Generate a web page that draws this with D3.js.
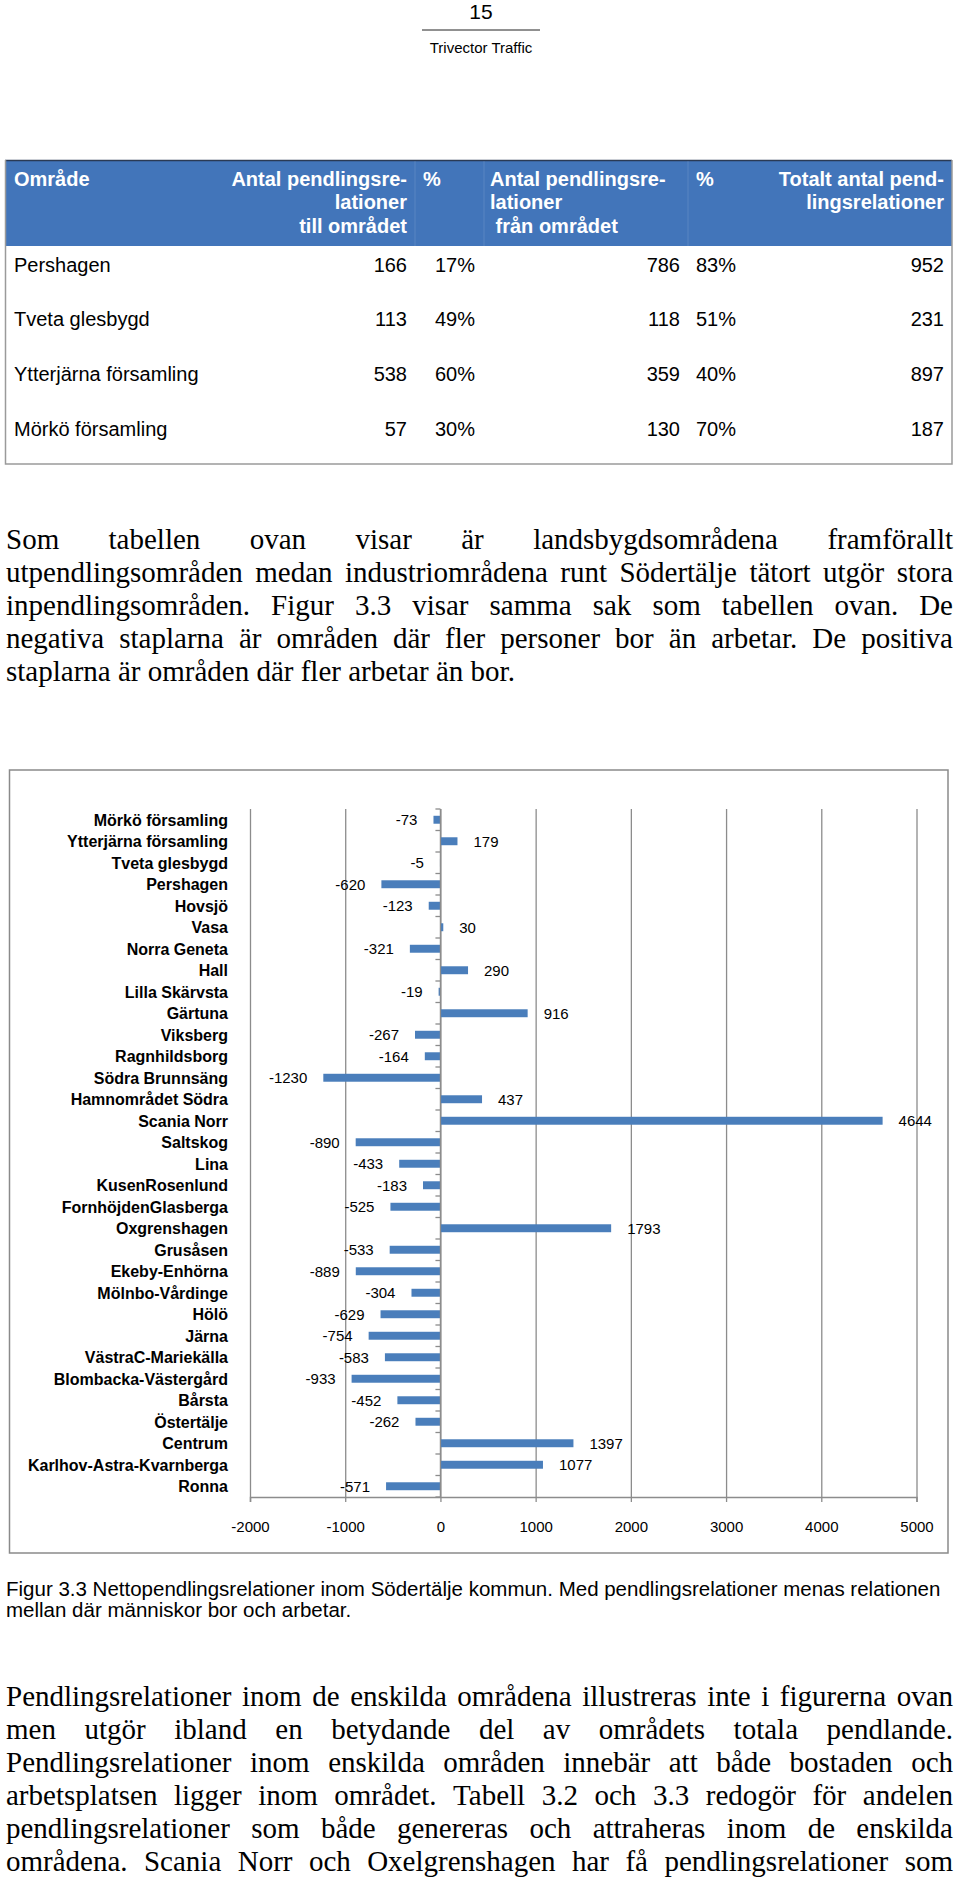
<!DOCTYPE html>
<html>
<head>
<meta charset="utf-8">
<script src="https://cdn.jsdelivr.net/npm/d3@7"></script>
<style>
  html, body { margin: 0; padding: 0; background: #fff; }
  svg { display: block; }
</style>
</head>
<body>
<div id="page"></div>
<script>
// Table 3.x data
const tableAreas = ['Pershagen', 'Tveta glesbygd', 'Ytterjärna församling', 'Mörkö församling'];
const toArea = [166, 113, 538, 57];
const toPct = ['17%', '49%', '60%', '30%'];
const fromArea = [786, 118, 359, 130];
const fromPct = ['83%', '51%', '40%', '70%'];
const totals = [952, 231, 897, 187];

// Figure 3.3 data (net commuting relations)
const areas = [
  'Mörkö församling', 'Ytterjärna församling', 'Tveta glesbygd', 'Pershagen',
  'Hovsjö', 'Vasa', 'Norra Geneta', 'Hall', 'Lilla Skärvsta', 'Gärtuna',
  'Viksberg', 'Ragnhildsborg', 'Södra Brunnsäng', 'Hamnområdet Södra',
  'Scania Norr', 'Saltskog', 'Lina', 'KusenRosenlund', 'FornhöjdenGlasberga',
  'Oxgrenshagen', 'Grusåsen', 'Ekeby-Enhörna', 'Mölnbo-Vårdinge', 'Hölö',
  'Järna', 'VästraC-Mariekälla', 'Blombacka-Västergård', 'Bårsta',
  'Östertälje', 'Centrum', 'Karlhov-Astra-Kvarnberga', 'Ronna'
];
const netValues = [
  -73, 179, -5, -620, -123, 30, -321, 290, -19, 916,
  -267, -164, -1230, 437, 4644, -890, -433, -183, -525, 1793,
  -533, -889, -304, -629, -754, -583, -933, -452, -262, 1397,
  1077, -571
];
const xTicks = [-2000, -1000, 0, 1000, 2000, 3000, 4000, 5000];

// Running text
const para1 = [
  'Som tabellen ovan visar är landsbygdsområdena framförallt',
  'utpendlingsområden medan industriområdena runt Södertälje tätort utgör stora',
  'inpendlingsområden. Figur 3.3 visar samma sak som tabellen ovan.  De',
  'negativa staplarna är områden där fler personer bor än arbetar. De positiva',
  'staplarna är områden där fler arbetar än bor.'
];
const caption = [
  'Figur 3.3 Nettopendlingsrelationer inom Södertälje kommun. Med pendlingsrelationer menas relationen',
  'mellan där människor bor och arbetar.'
];
const para2 = [
  'Pendlingsrelationer inom de enskilda områdena illustreras inte i figurerna ovan',
  'men utgör ibland en betydande del av områdets totala pendlande.',
  'Pendlingsrelationer inom enskilda områden innebär att både bostaden och',
  'arbetsplatsen ligger inom området. Tabell 3.2 och 3.3 redogör för andelen',
  'pendlingsrelationer som både genereras och attraheras inom de enskilda',
  'områdena. Scania Norr och Oxelgrenshagen har få pendlingsrelationer som'
];

const SANS = '"Liberation Sans", Arial, Helvetica, sans-serif';
const SERIF = '"Liberation Serif", "Times New Roman", serif';
const GRID = '#8c8c8c';
const BAR = '#4a7ebb';

const svg = d3.select('#page')
  .append('svg')
  .attr('width', 960)
  .attr('height', 1883)
  .attr('viewBox', '0 0 960 1883');

// Page header
svg.append('text')
  .attr('x', 481).attr('y', 18.5)
  .attr('text-anchor', 'middle')
  .style('font-family', SANS).style('font-size', '21px')
  .text('15');
svg.append('line')
  .attr('x1', 422).attr('x2', 540).attr('y1', 30).attr('y2', 30)
  .attr('stroke', '#222').attr('stroke-width', 1);
svg.append('text')
  .attr('x', 481).attr('y', 53)
  .attr('text-anchor', 'middle')
  .style('font-family', SANS).style('font-size', '15px')
  .text('Trivector Traffic');

// Table
const table = svg.append('g');
table.append('rect')
  .attr('x', 5).attr('y', 160).attr('width', 947).attr('height', 86)
  .attr('fill', '#4275ba');
table.append('line')
  .attr('x1', 5).attr('x2', 952).attr('y1', 160.5).attr('y2', 160.5)
  .attr('stroke', '#2a3a55').attr('stroke-width', 1.5);
[415, 484, 688].forEach(x => {
  table.append('line')
    .attr('x1', x).attr('x2', x).attr('y1', 161).attr('y2', 246)
    .attr('stroke', '#ffffff').attr('stroke-opacity', 0.12);
});
table.append('path')
  .attr('d', 'M5.5,160 V464 H952 V160')
  .attr('fill', 'none')
  .attr('stroke', '#9a9a9a').attr('stroke-width', 1.5);

const headerCells = [
  { x: 14, anchor: 'start', lines: ['Område'] },
  { x: 407, anchor: 'end', lines: ['Antal pendlingsre-', 'lationer', 'till området'] },
  { x: 423, anchor: 'start', lines: ['%'] },
  { x: 490, anchor: 'start', lines: ['Antal pendlingsre-', 'lationer', '\u00a0från området'] },
  { x: 696, anchor: 'start', lines: ['%'] },
  { x: 944, anchor: 'end', lines: ['Totalt antal pend-', 'lingsrelationer'] }
];
headerCells.forEach(c => {
  c.lines.forEach((ln, i) => {
    table.append('text')
      .attr('x', c.x).attr('y', 186 + i * 23.3)
      .attr('text-anchor', c.anchor)
      .attr('fill', '#fff')
      .style('font-family', SANS).style('font-size', '20px').style('font-weight', 'bold')
      .text(ln);
  });
});

const rowY = d3.scalePoint().domain(tableAreas).range([271.7, 435.7]);
const bodyCols = [
  { x: 14, anchor: 'start', vals: tableAreas },
  { x: 407, anchor: 'end', vals: toArea },
  { x: 475, anchor: 'end', vals: toPct },
  { x: 680, anchor: 'end', vals: fromArea },
  { x: 696, anchor: 'start', vals: fromPct },
  { x: 944, anchor: 'end', vals: totals }
];
bodyCols.forEach(c => {
  table.selectAll(null)
    .data(tableAreas)
    .join('text')
    .attr('x', c.x)
    .attr('y', d => rowY(d))
    .attr('text-anchor', c.anchor)
    .style('font-family', SANS).style('font-size', '20px')
    .text((d, i) => c.vals[i]);
});

// Justified serif text, word by word
function textBlock(lines, y0, lh, lastJustified) {
  const g = svg.append('g')
    .style('font-family', SERIF).style('font-size', '29px');
  const left = 6, right = 953;
  lines.forEach((ln, li) => {
    const y = y0 + li * lh;
    const words = ln.split(/\s+/).filter(Boolean);
    const nodes = words.map(w => g.append('text').attr('y', y).text(w));
    const widths = nodes.map(n => n.node().getComputedTextLength());
    const total = d3.sum(widths);
    const justify = li < lines.length - 1 || lastJustified;
    const gap = justify && words.length > 1
      ? (right - left - total) / (words.length - 1)
      : 7.25;
    let x = left;
    nodes.forEach((n, i) => {
      n.attr('x', x);
      x += widths[i] + gap;
    });
  });
}
textBlock(para1, 549, 33, false);

// Figure 3.3
const frame = { x: 9.5, y: 770, w: 938.5, h: 783 };
svg.append('rect')
  .attr('x', frame.x).attr('y', frame.y)
  .attr('width', frame.w).attr('height', frame.h)
  .attr('fill', '#fff')
  .attr('stroke', '#8a8a8a').attr('stroke-width', 1.5);

const plot = { left: 250, right: 916.5, top: 809, bottom: 1497 };
const x = d3.scaleLinear().domain([-2000, 5000]).range([plot.left, plot.right]);
const y = d3.scaleBand()
  .domain(areas)
  .range([plot.top, plot.bottom])
  .paddingInner(0.63)
  .paddingOuter(0.315);

const chart = svg.append('g');

// vertical gridlines
chart.append('g')
  .attr('transform', `translate(0,${plot.bottom})`)
  .call(d3.axisBottom(x).tickValues(xTicks).tickSize(-(plot.bottom - plot.top)).tickFormat(''))
  .call(g => g.select('.domain').remove())
  .call(g => g.selectAll('.tick line').attr('stroke', GRID).attr('stroke-width', 1.3));

// bars
chart.selectAll('rect.bar')
  .data(areas)
  .join('rect')
  .attr('class', 'bar')
  .attr('x', (d, i) => x(Math.min(0, netValues[i])))
  .attr('y', d => y(d))
  .attr('width', (d, i) => Math.abs(x(netValues[i]) - x(0)))
  .attr('height', y.bandwidth())
  .attr('fill', BAR);

// zero axis with category ticks
const boundaries = areas.map(a => y(a) - y.paddingOuter() * y.step()).concat([plot.bottom]);
chart.append('line')
  .attr('x1', x(0)).attr('x2', x(0))
  .attr('y1', plot.top).attr('y2', plot.bottom)
  .attr('stroke', GRID).attr('stroke-width', 1.3);
chart.selectAll('line.cat-tick')
  .data(boundaries)
  .join('line')
  .attr('class', 'cat-tick')
  .attr('x1', x(0) - 5).attr('x2', x(0))
  .attr('y1', d => d).attr('y2', d => d)
  .attr('stroke', GRID).attr('stroke-width', 1.3);

// x axis (plain hyphen for negatives, as in the original)
chart.append('g')
  .attr('transform', `translate(0,${plot.bottom})`)
  .call(d3.axisBottom(x).tickValues(xTicks).tickSize(5).tickPadding(19).tickFormat(d => String(d)))
  .call(g => g.select('.domain').attr('stroke', GRID).attr('stroke-width', 1.5))
  .call(g => g.selectAll('.tick line').attr('stroke', GRID).attr('stroke-width', 1.3))
  .call(g => g.selectAll('.tick text')
    .attr('fill', '#000')
    .style('font-family', SANS).style('font-size', '15px'));

// category labels
chart.selectAll('text.cat')
  .data(areas)
  .join('text')
  .attr('class', 'cat')
  .attr('x', 228)
  .attr('y', d => y(d) + y.bandwidth() / 2)
  .attr('dy', '0.36em')
  .attr('text-anchor', 'end')
  .style('font-family', SANS).style('font-size', '16px').style('font-weight', 'bold')
  .text(d => d);

// value labels
chart.selectAll('text.val')
  .data(areas)
  .join('text')
  .attr('class', 'val')
  .attr('x', (d, i) => netValues[i] < 0 ? x(netValues[i]) - 16 : x(netValues[i]) + 16)
  .attr('y', d => y(d) + y.bandwidth() / 2)
  .attr('dy', '0.36em')
  .attr('text-anchor', (d, i) => netValues[i] < 0 ? 'end' : 'start')
  .style('font-family', SANS).style('font-size', '15px')
  .text((d, i) => String(netValues[i]));

// caption
caption.forEach((ln, i) => {
  svg.append('text')
    .attr('x', 6).attr('y', 1596 + i * 21)
    .style('font-family', SANS).style('font-size', '20.5px')
    .text(ln);
});

textBlock(para2, 1706, 33, true);
</script>
</body>
</html>
